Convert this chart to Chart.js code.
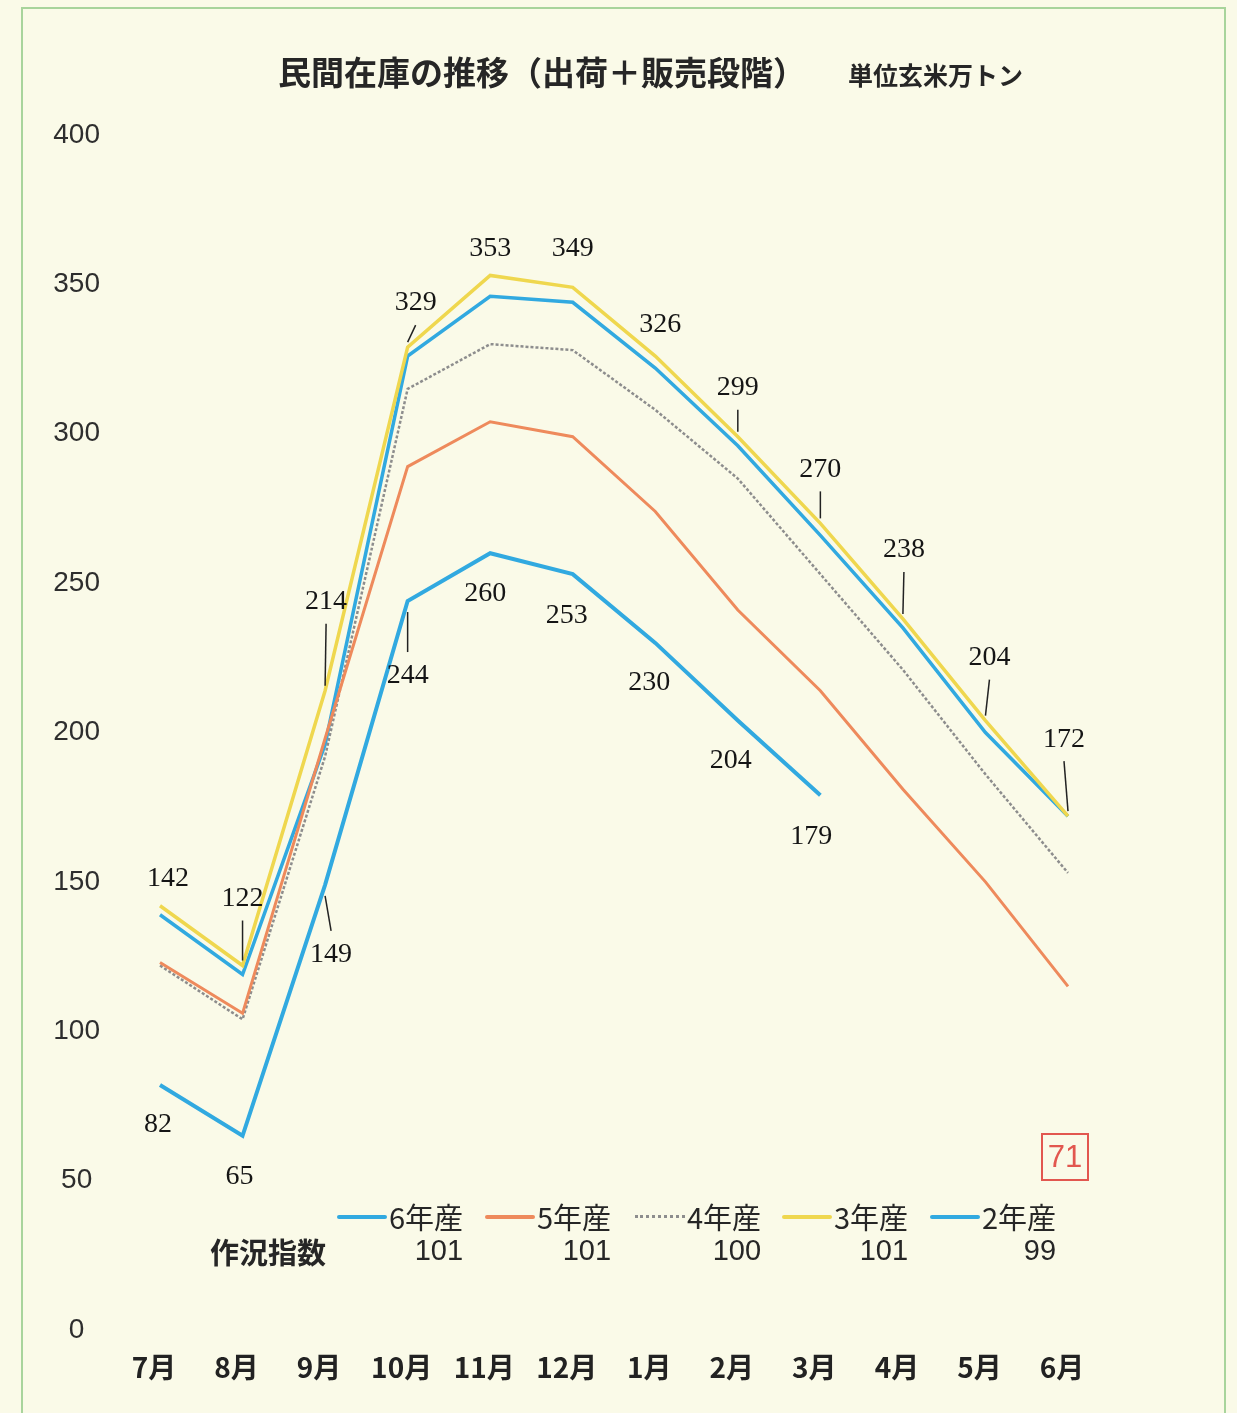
<!DOCTYPE html>
<html lang="ja">
<head>
<meta charset="utf-8">
<script src="https://cdn.jsdelivr.net/npm/chart.js@4.4.1/dist/chart.umd.min.js"></script>
<style>
  html, body { margin: 0; padding: 0; background: #fbfbef; }
  #wrap { position: relative; width: 1237px; height: 1413px; overflow: hidden; background: #fafae8; }
  #frame { position: absolute; left: 21px; top: 7px; width: 1201px; height: 1420px; border: 2px solid #a8d49c; }
  #chart { position: absolute; left: 0; top: 0; }
  .txt { position: absolute; font-family: "Noto Sans CJK JP", "Noto Sans", sans-serif; color: #262626; white-space: nowrap; line-height: 1; }
  #title { left: 278px; top: 55px; font-size: 33px; font-weight: bold; }
  #unit { left: 848px; top: 62px; font-size: 25px; font-weight: bold; }
  #sakkyo { left: 210px; top: 1237px; font-size: 29px; font-weight: bold; }
  .leg { position: absolute; top: 1202px; font-family: "Noto Sans CJK JP", sans-serif; color: #262626; line-height: 1; }
  .leg .row { display: flex; align-items: center; font-size: 29px; }
  .leg .sw { display: inline-block; width: 50px; margin-right: 2px; }
  .leg .idx { text-align: right; font-size: 29px; margin-top: 5px; font-family: "Liberation Sans", sans-serif; }
  #page71 { position: absolute; left: 1041px; top: 1133px; width: 44px; height: 44px; border: 2px solid #e2574f;
            color: #e2574f; font-family: "Liberation Sans", sans-serif; font-size: 31px; text-align: center; line-height: 44px; }
</style>
</head>
<body>
<div id="wrap">
  <div id="frame"></div>
  <canvas id="chart" width="1237" height="1413"></canvas>
  <div class="txt" id="title">民間在庫の推移（出荷＋販売段階）</div>
  <div class="txt" id="unit">単位玄米万トン</div>
  <div class="txt" id="sakkyo">作況指数</div>
  <div id="legend"></div>
  <div id="page71">71</div>
</div>
<script>
// --- データ ---
const months = ["7月", "8月", "9月", "10月", "11月", "12月", "1月", "2月", "3月", "4月", "5月", "6月"];
const seriesNames = ["6年産", "5年産", "4年産", "3年産", "2年産"];
const cropIndex = [101, 101, 100, 101, 99];
const stock6 = [82, 65, 149, 244, 260, 253, 230, 204, 179, null, null, null];
const stock5 = [123, 106, 198, 289, 304, 299, 274, 241, 214, 181, 150, 115];
const stock4 = [122, 104, 192, 315, 330, 328, 308, 285, 253, 221, 186, 153];
const stock3 = [142, 122, 214, 329, 353, 349, 326, 299, 270, 238, 204, 172];
const stock2 = [139, 119, 196, 326, 346, 344, 322, 296, 266, 235, 200, 172];
const yTicks = [0, 50, 100, 150, 200, 250, 300, 350, 400];

// --- 見た目 ---
const colors = ["#31a9e0", "#ee8a5c", "#8d8d8d", "#efd74e", "#31a9e0"];
const widths = [4, 3, 2.5, 3.5, 3.5];
const legendX = [337, 485, 635, 782, 930];

// ラベル位置 (点からのずれ) と引出線
const labelOffset3 = [[8, -27], [0, -67], [1, -89], [8, -44], [0, -27], [0, -39], [5, -31], [0, -49], [0, -54], [1, -69], [4, -63], [-4, -77]];
const leader3 = [false, true, true, true, false, false, false, true, true, true, true, true];
const labelOffset6 = [[-2, 40], [-3, 41], [6, 70], [0, 75], [-5, 40], [-6, 41], [-6, 40], [-7, 40], [-9, 41]];
const leader6 = [false, false, true, true, false, false, false, false, false];

// --- 凡例 ---
const legendEl = document.getElementById("legend");
seriesNames.forEach((name, i) => {
    const d = document.createElement("div");
    d.className = "leg";
    d.style.left = legendX[i] + "px";
    const sw = i === 2
        ? '<span class="sw" style="border-top:3px dotted ' + colors[i] + ';height:0"></span>'
        : '<span class="sw" style="height:4px;border-radius:2px;background:' + colors[i] + '"></span>';
    d.innerHTML = '<div class="row">' + sw + '<span>' + name + '</span></div><div class="idx">' + cropIndex[i] + '</div>';
    legendEl.appendChild(d);
});

// --- 数値ラベル ---
const valueLabels = {
    id: "valueLabels",
    afterDatasetsDraw(chart) {
        const ctx = chart.ctx;
        const sets = [
            { ds: 3, data: stock3, off: labelOffset3, lead: leader3 },
            { ds: 0, data: stock6, off: labelOffset6, lead: leader6 }
        ];
        ctx.save();
        ctx.font = "28px 'Liberation Serif', serif";
        ctx.fillStyle = "#151515";
        ctx.textAlign = "center";
        ctx.textBaseline = "middle";
        ctx.strokeStyle = "#222";
        ctx.lineWidth = 1.5;
        sets.forEach(s => {
            const meta = chart.getDatasetMeta(s.ds);
            s.off.forEach((o, i) => {
                const v = s.data[i];
                if (v === null) return;
                const p = meta.data[i];
                const tx = p.x + o[0], ty = p.y + o[1];
                ctx.fillText(String(v), tx, ty);
                if (s.lead[i]) {
                    ctx.beginPath();
                    if (o[1] < 0) { ctx.moveTo(tx, ty + 22); ctx.lineTo(p.x, p.y - 5); }
                    else { ctx.moveTo(p.x, p.y + 11); ctx.lineTo(tx, ty - 24); }
                    ctx.stroke();
                }
            });
        });
        ctx.restore();
    }
};

// --- グラフ ---
const allSeries = [stock6, stock5, stock4, stock3, stock2];
new Chart(document.getElementById("chart").getContext("2d"), {
    type: "line",
    data: {
        labels: months,
        datasets: allSeries.map((d, i) => ({
            label: seriesNames[i],
            data: d,
            borderColor: colors[i],
            borderWidth: widths[i],
            borderDash: i === 2 ? [3, 2] : [],
            pointRadius: 0,
            tension: 0,
            fill: false,
            spanGaps: false
        }))
    },
    options: {
        responsive: false,
        animation: false,
        layout: { padding: { left: 30, right: 169, top: 135, bottom: 0 } },
        plugins: { legend: { display: false }, tooltip: { enabled: false } },
        scales: {
            x: {
                offset: false,
                grid: { display: false, drawTicks: false },
                border: { display: false },
                ticks: {
                    autoSkip: false, maxRotation: 0, padding: 21, labelOffset: -6,
                    color: "#222",
                    font: { family: "'Noto Sans CJK JP', sans-serif", size: 28, weight: "bold" }
                },
                afterFit: s => { s.height = 83; }
            },
            y: {
                min: 0, max: 400,
                grid: { display: false, drawTicks: false },
                border: { display: false },
                afterBuildTicks: s => { s.ticks = yTicks.map(v => ({ value: v })); },
                ticks: {
                    padding: 60, crossAlign: "center", color: "#2e2e2e",
                    font: { family: "'Liberation Sans', sans-serif", size: 28 }
                },
                afterFit: s => { s.width = 130; }
            }
        }
    },
    plugins: [valueLabels]
});
</script>
</body>
</html>
